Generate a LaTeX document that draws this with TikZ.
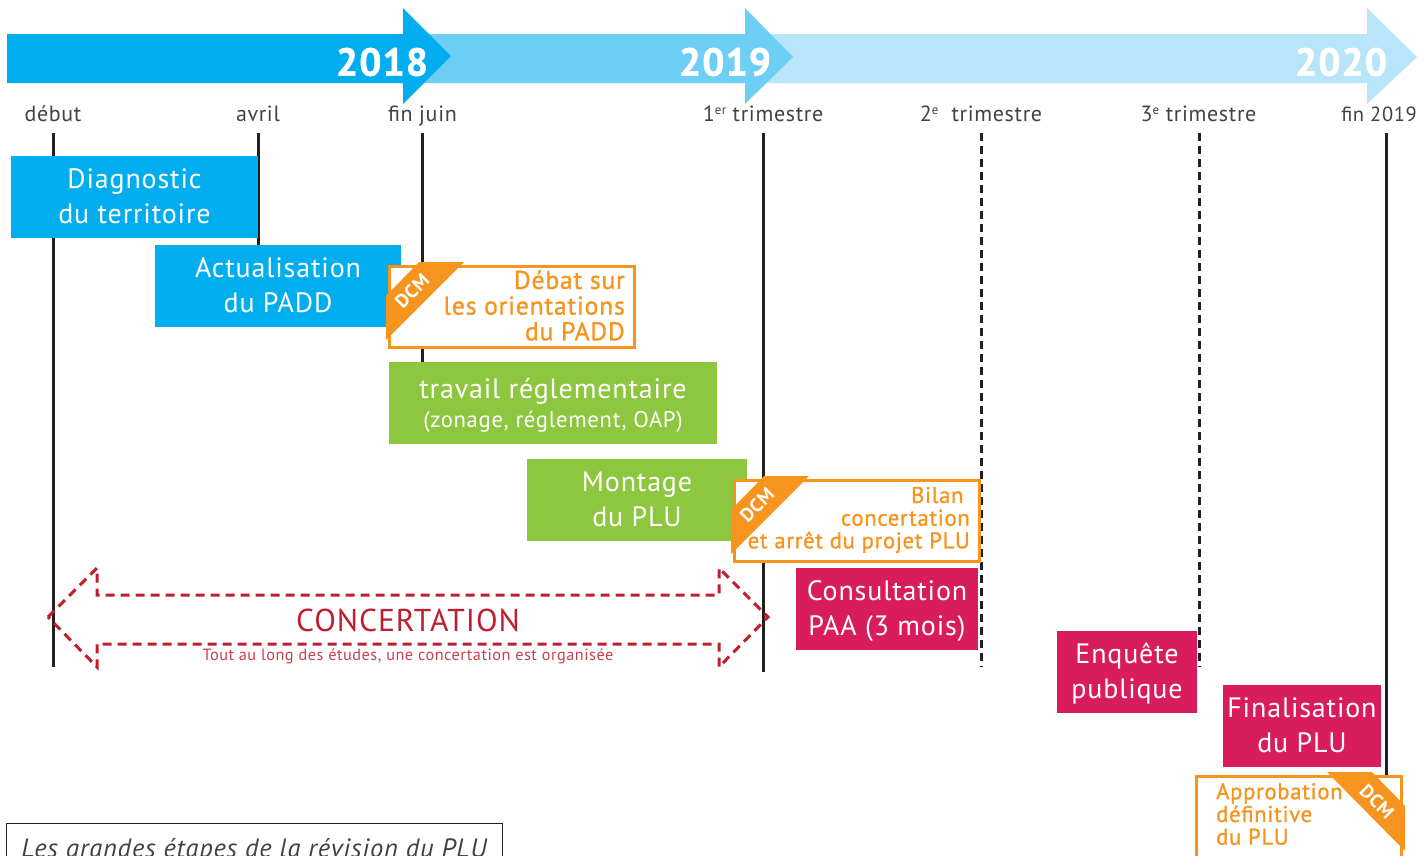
\documentclass[tikz,border=0pt]{standalone}
\usepackage{fontspec}
\setmainfont{PT Sans}[LetterSpace=3]
\usetikzlibrary{
  positioning,
  shapes
}
\definecolor{blueA}{HTML}{00AEEF}
\definecolor{blueB}{HTML}{6DCFF6}
\definecolor{blueC}{HTML}{B9E5FB}
\definecolor{greenA}{HTML}{8DC63F}
\definecolor{crimsonA}{HTML}{D91C5C}
\definecolor{orangeA}{HTML}{F7941D}
\definecolor{redA}{HTML}{BE1E2D}
\definecolor{darkA}{HTML}{231F20}
\newcommand{\supdate}[1]{\raisebox{7pt}{\fontsize{13}{13}\selectfont #1}}
\tikzset{
  stepbox/.style = {shape=rectangle, text=white, inner sep=0pt, align=center,
    font=\fontsize{28}{35}\selectfont,
    text height=59pt, text depth=7pt},
  dcmbox/.style = {shape=rectangle, draw=orangeA, line width=3pt, fill=white,
    inner sep=0pt, minimum width=245pt, minimum height=81pt},
  dcmlabel/.style = {text=orangeA, inner sep=0pt,
    font=\fontsize{#1}{#1}\selectfont\addfontfeature{FakeBold=1}},
  ribbon/.style = {fill=orangeA},
  dcmtext/.style = {text=white, inner sep=0pt,
    font=\fontsize{19}{19}\selectfont\bfseries},
  yeartext/.style = {text=white, inner sep=0pt,
    font=\fontsize{39}{39}\selectfont\bfseries\addfontfeature{FakeBold=1.5}},
  datetext/.style = {text=darkA!85, inner sep=0pt, anchor=base,
    font=\fontsize{22}{22}\selectfont},
  tickline/.style = {darkA, line width=3pt},
  tickdash/.style = {darkA, line width=3pt, dash pattern=on 8pt off 5pt}
}
\begin{document}
\begin{tikzpicture}[x=1pt, y=-1pt]
  \useasboundingbox (0,0) rectangle (1428,855);
  % frise
  \fill[blueC] (430,34) -- (1367,34) -- (1367,8) -- (1417,57) -- (1367,104) -- (1367,83) -- (430,83) -- cycle;
  \fill[blueB] (400,34) -- (745,34) -- (745,8) -- (793,57) -- (745,104) -- (745,83) -- (400,83) -- cycle;
  \fill[blueA] (7,34) -- (403,34) -- (403,8) -- (451,56) -- (403,104) -- (403,83) -- (7,83) -- cycle;
  \node[yeartext] (y2018) at (382,62) {2018};
  \node[yeartext] (y2019) at (725,62) {2019};
  \node[yeartext] (y2020) at (1341,62) {2020};
  % dates
  \node[datetext] (debut) at (53,121) {début};
  \node[datetext] (avril) at (258,121) {avril};
  \node[datetext] (juin) at (422.5,121) {fin juin};
  \node[datetext] (tri1) at (763,121) {1\supdate{er} trimestre};
  \node[datetext] (tri2) at (981,121) {2\supdate{e}\ \ trimestre};
  \node[datetext] (tri3) at (1198.5,121) {3\supdate{e} trimestre};
  \node[datetext, font=\fontsize{20.5}{22}\selectfont] (fin) at (1379,121) {fin 2019};
  % reperes
  \coordinate (debutA) at (53,133);   \coordinate (debutB) at (53,667);
  \coordinate (avrilA) at (258,133);  \coordinate (avrilB) at (258,245);
  \coordinate (juinA) at (422.5,133); \coordinate (juinB) at (422.5,362);
  \coordinate (triA) at (763,133);    \coordinate (triB) at (763,672);
  \coordinate (deuxA) at (981.5,133); \coordinate (deuxB) at (981.5,667);
  \coordinate (troisA) at (1199,133); \coordinate (troisB) at (1199,667);
  \coordinate (finA) at (1386,133);   \coordinate (finB) at (1386,776);
  \draw[tickline] (debutA) -- (debutB);
  \draw[tickline] (avrilA) -- (avrilB);
  \draw[tickline] (juinA) -- (juinB);
  \draw[tickline] (triA) -- (triB);
  \draw[tickdash] (deuxA) -- (deuxB);
  \draw[tickdash] (troisA) -- (troisB);
  \draw[tickline] (finA) -- (finB);
  % etapes
  \node[stepbox, fill=blueA, minimum width=247pt, minimum height=82pt] (diag) at (134.5,197) {Diagnostic\\du territoire};
  \node[stepbox, fill=blueA, minimum width=246pt, minimum height=82pt] (padd) at (278,286) {Actualisation\\du PADD};
  \node[stepbox, fill=greenA, minimum width=328pt, minimum height=82pt, text height=55pt] (regl) at (553,403)
    {travail réglementaire\\[-6pt]{\fontsize{22.7}{24}\selectfont (zonage, réglement, OAP)}};
  \node[stepbox, fill=greenA, minimum width=220pt, minimum height=82pt] (plu) at (637,500) {Montage\\du PLU};
  \node[stepbox, fill=crimsonA, minimum width=182pt, minimum height=82pt] (paa) at (887,609) {Consultation\\PAA (3 mois)};
  \node[stepbox, fill=crimsonA, minimum width=140pt, minimum height=82pt] (enq) at (1127,672) {Enquête\\publique};
  \node[stepbox, fill=crimsonA, minimum width=158pt, minimum height=82pt] (fina) at (1302,726) {Finalisation\\du PLU};
  % deliberations
  \node[dcmbox] (debat) at (511.5,306.5) {};
  \node[dcmlabel=25.7, anchor=east, align=right] (debatT) at (625,305.5) {Débat sur\\les orientations\\du PADD};
  \fill[ribbon] (386,296) -- (419,262) -- (464,262) -- (386,340) -- cycle;
  \node[dcmtext, rotate=45] (dcmA) at (412,291) {DCM};
  \node[dcmbox] (bilan) at (856.5,520.5) {};
  \node[dcmlabel=22.7, anchor=east, align=right] (bilanT) at (970,520) {Bilan\;\\concertation\\et arrêt du projet PLU};
  \fill[ribbon] (731,510) -- (764,476) -- (809,476) -- (731,554) -- cycle;
  \node[dcmtext, rotate=45] (dcmB) at (757,505) {DCM};
  \node[dcmbox, minimum width=205pt] (appro) at (1298.5,816.5) {};
  \node[dcmlabel=22.7, anchor=west, align=left] (approT) at (1216,814) {Approbation\\définitive\\du PLU};
  \fill[ribbon] (1327,772) -- (1372,772) -- (1405,806) -- (1405,851) -- cycle;
  \node[dcmtext, rotate=-45] (dcmC) at (1377,802) {DCM};
  % concertation
  \draw[redA, line width=3pt, dash pattern=on 9pt off 6pt]
    (48,617) -- (97,568) -- (97,595) -- (719,595) -- (719,568) -- (768,617)
    -- (719,667) -- (719,644) -- (97,644) -- (97,667) -- cycle;
  \node[text=redA, inner sep=0pt, font=\fontsize{31.6}{32}\selectfont] (conc) at (408,620) {CONCERTATION};
  \node[text=redA!85, inner sep=0pt, font=\fontsize{16.3}{17}\selectfont] (concT) at (408,656.5) {Tout au long des études, une concertation est organisée};
  % titre
  \node[draw=darkA, line width=1pt, inner sep=0pt, minimum width=496pt, minimum height=56pt,
    text=darkA!85, font=\fontsize{26.5}{27}\selectfont\itshape] (titre) at (254,851) {Les grandes étapes de la révision du PLU};
\end{tikzpicture}
\end{document}
